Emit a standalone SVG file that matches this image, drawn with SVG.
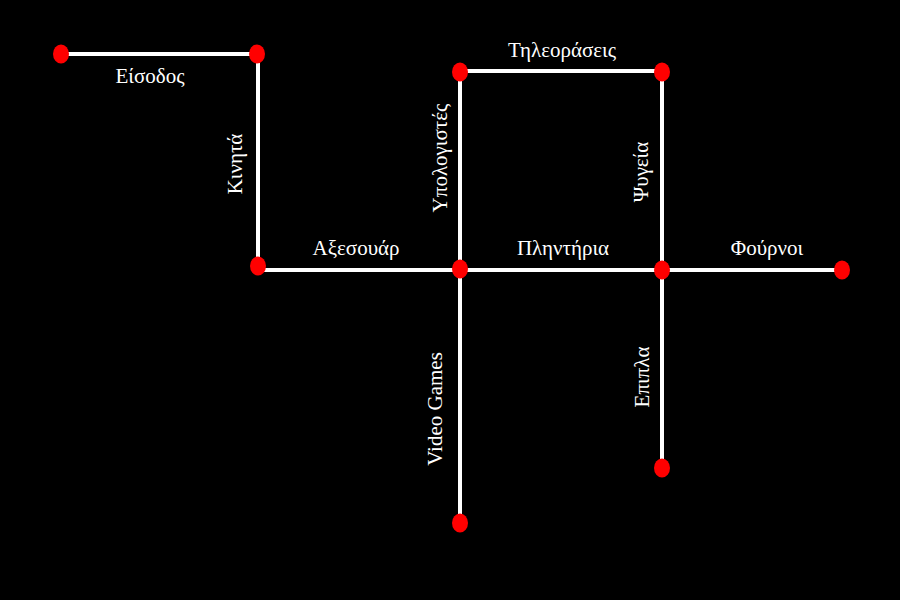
<svg xmlns="http://www.w3.org/2000/svg" width="900" height="600" viewBox="0 0 900 600">
<style>
.e{stroke:#fff;stroke-width:4;fill:none}
.n{fill:#f00}
text{font-family:"Liberation Serif","Times New Roman",serif;font-size:21px;fill:#fff;text-anchor:middle}
</style>
<rect width="900" height="600" fill="#000"/>
<g id="connectors">
<line class="e" x1="61" y1="54" x2="258" y2="54"/>
<line class="e" x1="258" y1="54" x2="258" y2="270"/>
<line class="e" x1="258" y1="270" x2="460" y2="270"/>
<line class="e" x1="460" y1="270" x2="460" y2="71"/>
<line class="e" x1="460" y1="71" x2="662" y2="71"/>
<line class="e" x1="662" y1="71" x2="662" y2="270"/>
<line class="e" x1="460" y1="270" x2="662" y2="270"/>
<line class="e" x1="662" y1="270" x2="842" y2="270"/>
<line class="e" x1="662" y1="270" x2="662" y2="468"/>
<line class="e" x1="460" y1="270" x2="460" y2="523"/>
</g>
<g id="labels">
<text x="150" y="83">Είσοδος</text>
<text transform="translate(242,164) rotate(-90)">Κινητά</text>
<text x="356" y="255">Αξεσουάρ</text>
<text transform="translate(447,158) rotate(-90)">Υπολογιστές</text>
<text x="562" y="57">Τηλεοράσεις</text>
<text transform="translate(648,172) rotate(-90)">Ψυγεία</text>
<text x="563" y="255">Πληντήρια</text>
<text x="767" y="255">Φούρνοι</text>
<text transform="translate(649,377) rotate(-90)">Επιπλα</text>
<text transform="translate(442,409) rotate(-90)">Video Games</text>
</g>
<g id="n1"><ellipse class="n" cx="61" cy="54" rx="8" ry="9.5"/></g>
<g id="n2"><ellipse class="n" cx="257" cy="54" rx="8" ry="9.5"/></g>
<g id="n3"><ellipse class="n" cx="258" cy="266" rx="8" ry="9.5"/></g>
<g id="n4"><ellipse class="n" cx="460" cy="269" rx="8" ry="9.5"/></g>
<g id="n5"><ellipse class="n" cx="460" cy="72" rx="8" ry="9.5"/></g>
<g id="n6"><ellipse class="n" cx="662" cy="72" rx="8" ry="9.5"/></g>
<g id="n7"><ellipse class="n" cx="662" cy="270" rx="8" ry="9.5"/></g>
<g id="n8"><ellipse class="n" cx="842" cy="270" rx="8" ry="9.5"/></g>
<g id="n9"><ellipse class="n" cx="662" cy="468" rx="8" ry="9.5"/></g>
<g id="n10"><ellipse class="n" cx="460" cy="523" rx="8" ry="9.5"/></g>
</svg>
